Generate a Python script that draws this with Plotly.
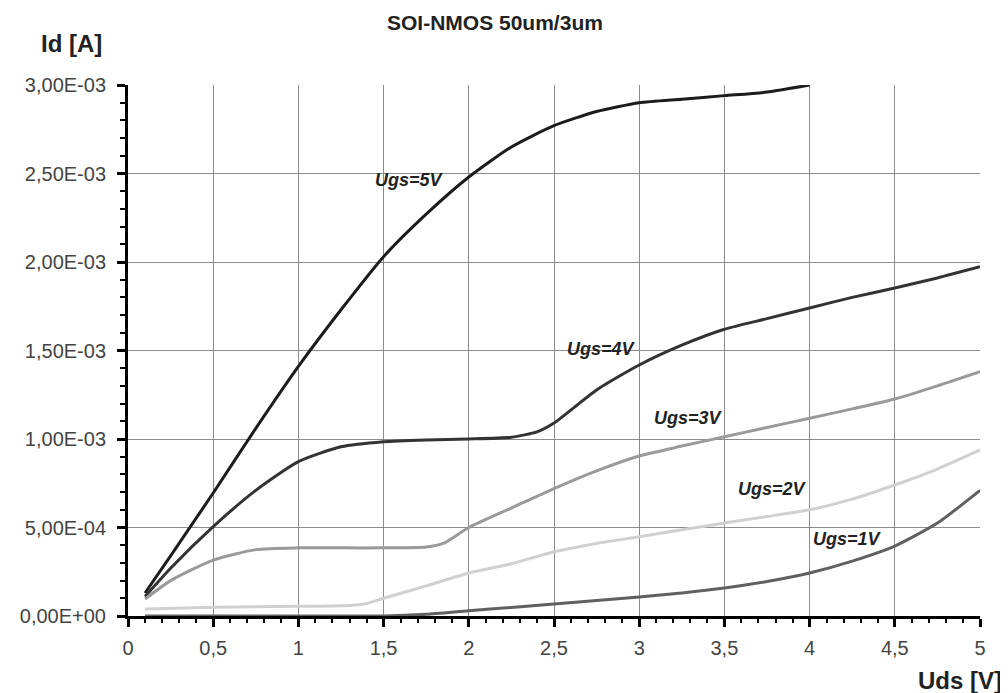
import plotly.graph_objects as go

x5 = [0.1, 0.25, 0.5, 0.75, 1, 1.25, 1.5, 1.75, 2, 2.25, 2.5, 2.75, 3, 3.25, 3.5, 3.75, 4]
y5 = [0.13, 0.34, 0.695, 1.06, 1.41, 1.73, 2.03, 2.27, 2.48, 2.65, 2.77, 2.85, 2.90, 2.92, 2.94, 2.96, 3.0]

x4 = [0.1, 0.25, 0.5, 0.75, 1, 1.25, 1.5, 1.75, 2, 2.25, 2.4, 2.5, 2.75, 3, 3.25, 3.5, 3.75, 4, 4.25, 4.5, 4.75, 5]
y4 = [0.11, 0.27, 0.505, 0.71, 0.872, 0.956, 0.985, 0.995, 1.0, 1.01, 1.04, 1.09, 1.277, 1.418, 1.53, 1.62, 1.68, 1.74, 1.80, 1.853, 1.91, 1.973]

x3 = [0.1, 0.25, 0.5, 0.75, 1, 1.25, 1.5, 1.75, 1.85, 2, 2.25, 2.5, 2.75, 3, 3.25, 3.5, 3.75, 4, 4.25, 4.5, 4.75, 5]
y3 = [0.096, 0.2, 0.316, 0.375, 0.385, 0.385, 0.385, 0.39, 0.41, 0.5, 0.61, 0.72, 0.82, 0.904, 0.96, 1.013, 1.065, 1.117, 1.17, 1.226, 1.30, 1.38]

x2 = [0.1, 0.5, 1, 1.3, 1.4, 1.5, 1.75, 2, 2.25, 2.5, 2.75, 3, 3.25, 3.5, 3.75, 4, 4.25, 4.5, 4.75, 5]
y2 = [0.04, 0.05, 0.055, 0.06, 0.07, 0.10, 0.17, 0.243, 0.295, 0.363, 0.41, 0.448, 0.487, 0.525, 0.562, 0.60, 0.66, 0.74, 0.83, 0.938]

x1 = [0.1, 0.5, 1, 1.5, 1.75, 2, 2.25, 2.5, 2.75, 3, 3.25, 3.5, 3.75, 4, 4.25, 4.5, 4.75, 5]
y1 = [0, 0, 0, 0, 0.01, 0.03, 0.048, 0.068, 0.087, 0.107, 0.13, 0.158, 0.195, 0.243, 0.31, 0.395, 0.525, 0.71]

series = [
    ("Ugs=5V", x5, y5, "#1c1c1c", 1.65, 2.463),
    ("Ugs=4V", x4, y4, "#333333", 2.78, 1.508),
    ("Ugs=3V", x3, y3, "#9a9a9a", 3.29, 1.119),
    ("Ugs=2V", x2, y2, "#d0d0d0", 3.785, 0.718),
    ("Ugs=1V", x1, y1, "#606060", 4.225, 0.435),
]

yticks = [0, 0.5e-3, 1e-3, 1.5e-3, 2e-3, 2.5e-3, 3e-3]
ytext = ["0,00E+00", "5,00E-04", "1,00E-03", "1,50E-03", "2,00E-03", "2,50E-03", "3,00E-03"]
xticks = [0, 0.5, 1, 1.5, 2, 2.5, 3, 3.5, 4, 4.5, 5]
xtext = ["0", "0,5", "1", "1,5", "2", "2,5", "3", "3,5", "4", "4,5", "5"]

FONT = "Liberation Sans, Arial"

fig = go.Figure()
for name, xs, ys, col, lx, ly in series:
    fig.add_trace(go.Scatter(
        x=xs, y=[v * 1e-3 for v in ys], mode="lines", name=name,
        line=dict(color=col, width=3, shape="spline", smoothing=0.6),
        showlegend=False,
    ))
    fig.add_annotation(x=lx, y=ly * 1e-3, text="<b><i>" + name + "</i></b>",
                       showarrow=False, font=dict(size=18, color="#222222", family=FONT))

fig.update_layout(
    width=1000, height=685,
    margin=dict(l=110, r=28, t=77, b=77),
    paper_bgcolor="white", plot_bgcolor="white",
    font=dict(family=FONT, size=20, color="#444444"),
)

fig.update_xaxes(
    range=[0, 5], tickvals=xticks, ticktext=xtext,
    showgrid=True, gridcolor="#8c8c8c", gridwidth=1,
    showline=True, linecolor="black", linewidth=3,
    ticks="outside", ticklen=8, tickwidth=3, tickcolor="black",
    ticklabelstandoff=4,
    minor=dict(dtick=0.1, ticks="outside", ticklen=4, tickwidth=2, tickcolor="black", showgrid=False),
    zeroline=False,
)
fig.update_yaxes(
    range=[0, 3e-3], tickvals=yticks, ticktext=ytext,
    showgrid=True, gridcolor="#8c8c8c", gridwidth=1,
    showline=True, linecolor="black", linewidth=3,
    ticks="outside", ticklen=8, tickwidth=3, tickcolor="black",
    ticklabelstandoff=7,
    minor=dict(dtick=1e-4, ticks="outside", ticklen=5, tickwidth=2, tickcolor="black", showgrid=False),
    zeroline=False,
)

fig.add_annotation(xref="paper", yref="paper", x=0.431, y=1.1186,
                   text="<b>SOI-NMOS 50um/3um</b>", showarrow=False,
                   font=dict(size=21, color="#222222", family=FONT), xanchor="center", yanchor="middle")
fig.add_annotation(xref="paper", yref="paper", x=-0.066, y=1.079,
                   text="<b>Id [A]</b>", showarrow=False,
                   font=dict(size=24, color="#222222", family=FONT), xanchor="center", yanchor="middle")
fig.add_annotation(xref="paper", yref="paper", x=0.976, y=-0.1224,
                   text="<b>Uds [V]</b>", showarrow=False,
                   font=dict(size=24, color="#222222", family=FONT), xanchor="center", yanchor="middle")

fig.write_html("out.html")
